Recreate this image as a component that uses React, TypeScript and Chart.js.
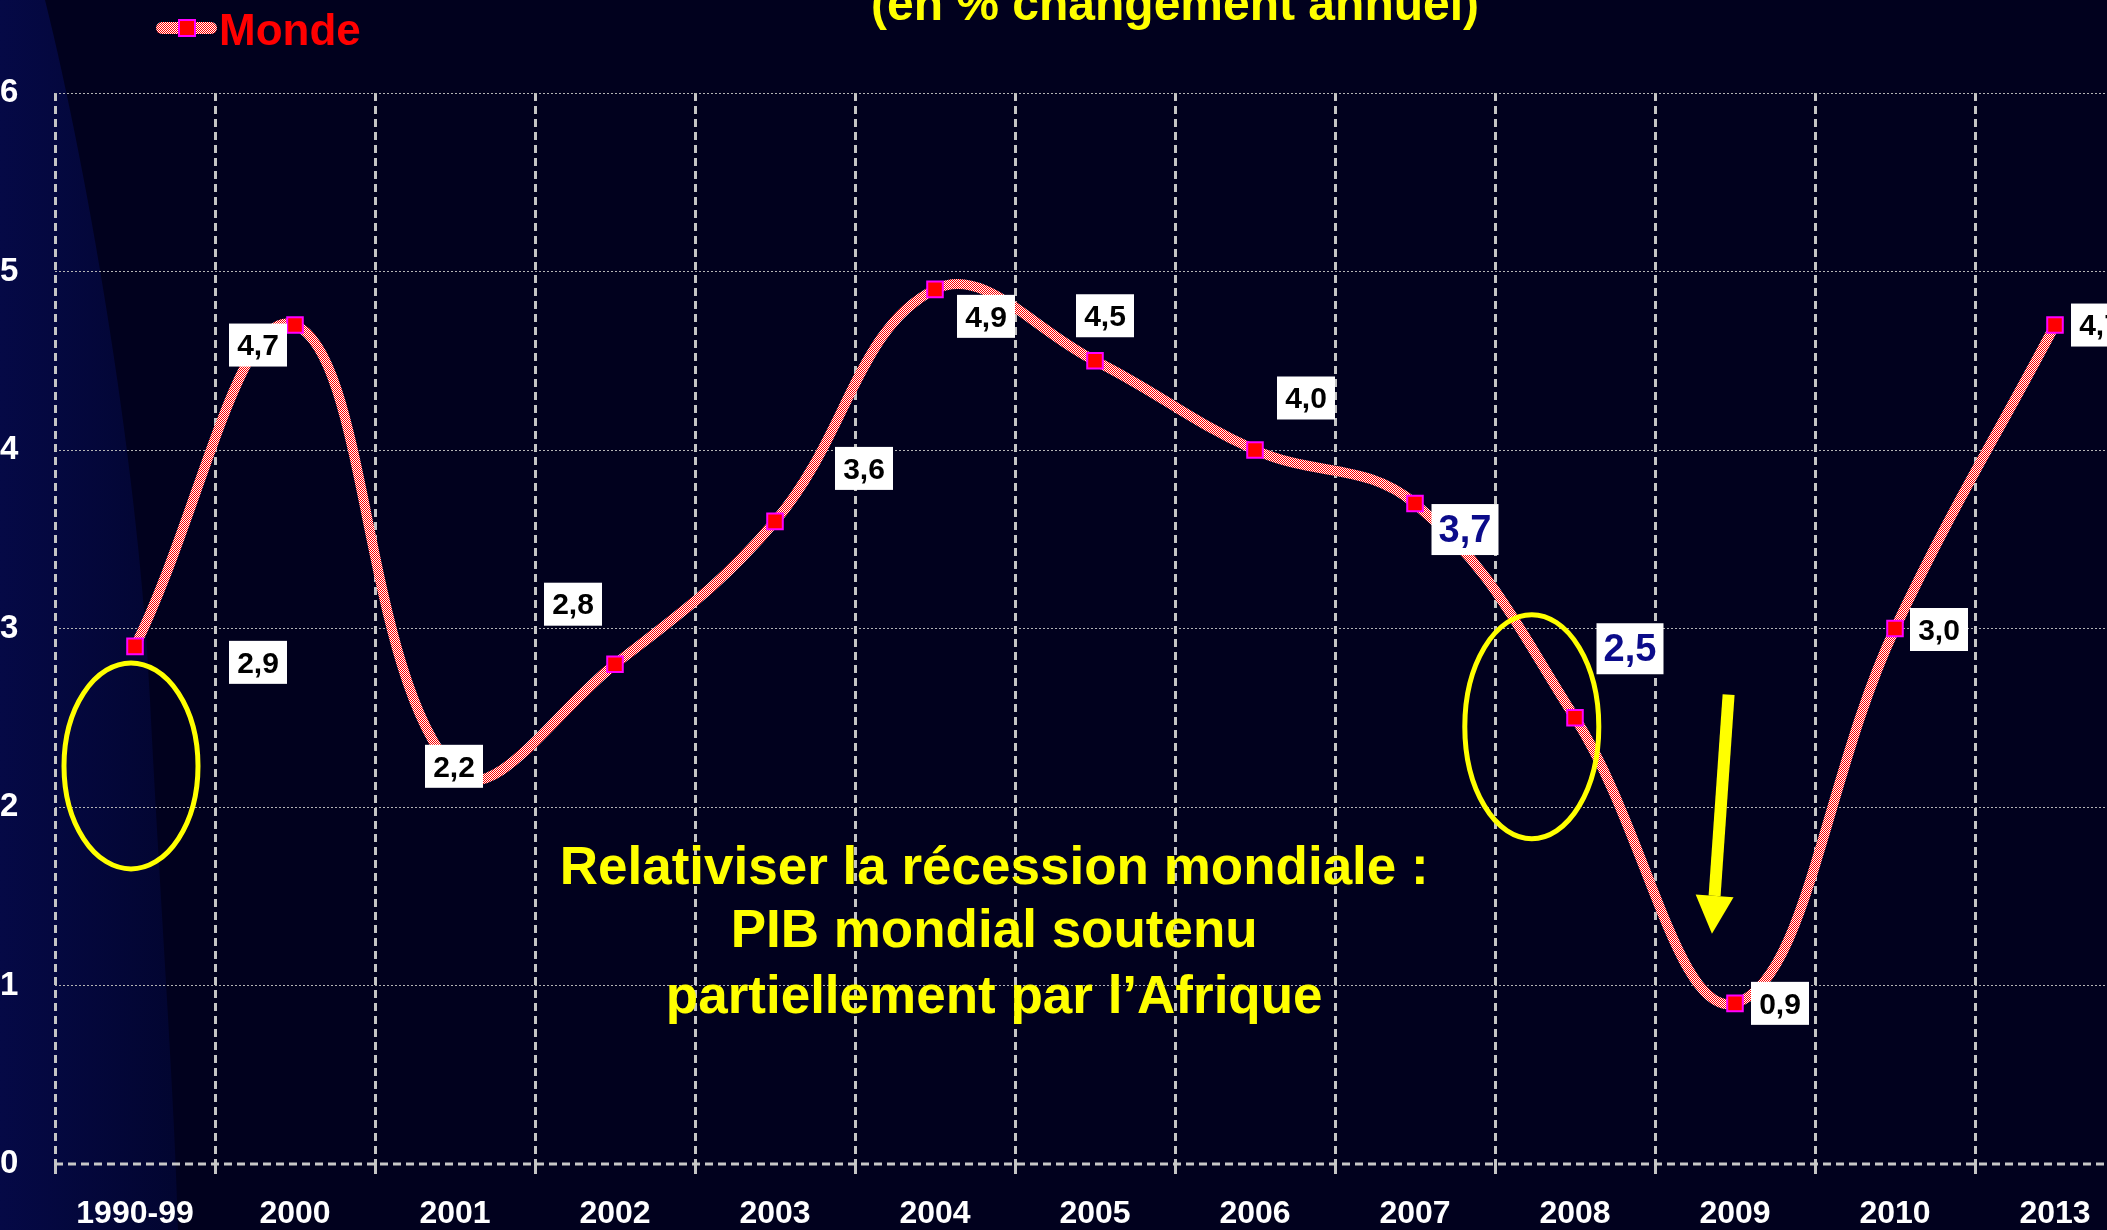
import React, { useEffect, useRef } from "react";
import { Chart, registerables } from "chart.js";

Chart.register(...registerables);

// ---------- data ----------
const categories = ["1990-99", "2000", "2001", "2002", "2003", "2004", "2005", "2006", "2007", "2008", "2009", "2010", "2013"];
const mondeValues = [2.9, 4.7, 2.2, 2.8, 3.6, 4.9, 4.5, 4.0, 3.7, 2.5, 0.9, 3.0, 4.7];
const yTickValues = [0, 1, 2, 3, 4, 5, 6];
const seriesName = "Monde";
const titleText = "(en % changement annuel)";
const noteLines = ["Relativiser la récession mondiale :", "PIB mondial soutenu", "partiellement par l\u2019Afrique"];
const highlightedCategories = ["2007", "2008"];

// ---------- layout / style (not data) ----------
const FONT = '"Liberation Sans", Arial, Helvetica, sans-serif';
const CANVAS_W = 2200;
const CANVAS_H = 1230;
// value-label box offsets from their point, in px
const labelOffsets: [number, number][] = [
  [123, 16], [-37, 20], [-1, -5], [-42, -60], [89, -53], [51, 27], [10, -45],
  [51, -52], [50, 26], [55, -69], [45, 0], [44, 1], [45, 0],
];

function makeChecker(): CanvasPattern | string {
  const c = document.createElement("canvas");
  c.width = 2;
  c.height = 2;
  const g = c.getContext("2d");
  if (!g) return "#ff6060";
  g.fillStyle = "#ffffff";
  g.fillRect(0, 0, 2, 2);
  g.fillStyle = "#ff0000";
  g.fillRect(0, 0, 1, 1);
  g.fillRect(1, 1, 1, 1);
  const p = g.createPattern(c, "repeat");
  return p || "#ff6060";
}

const fmt = (v: number) => v.toFixed(1).replace(".", ",");

export default function App() {
  const ref = useRef<HTMLCanvasElement | null>(null);

  useEffect(() => {
    const canvas = ref.current;
    if (!canvas) return;
    const pattern = makeChecker();

    const bgPlugin = {
      id: "bg",
      beforeDraw(chart: any) {
        const { ctx, width, height } = chart;
        ctx.save();
        ctx.fillStyle = "#01011e";
        ctx.fillRect(0, 0, width, height);
        const g = ctx.createLinearGradient(0, 0, 180, 0);
        g.addColorStop(0, "rgb(5,9,70)");
        g.addColorStop(1, "rgb(2,5,48)");
        ctx.beginPath();
        ctx.moveTo(0, 0);
        ctx.lineTo(45, 0);
        ctx.bezierCurveTo(90, 180, 140, 480, 150, 700);
        ctx.bezierCurveTo(160, 900, 175, 1100, 178, height);
        ctx.lineTo(0, height);
        ctx.closePath();
        ctx.fillStyle = g;
        ctx.fill();
        ctx.restore();
      },
    };

    const zeroLinePlugin = {
      id: "zeroLine",
      beforeDatasetsDraw(chart: any) {
        const { ctx, chartArea } = chart;
        const y0 = chart.scales.y.getPixelForValue(0);
        ctx.save();
        ctx.setLineDash([8, 5]);
        ctx.lineWidth = 3;
        ctx.strokeStyle = "#c8c8c8";
        ctx.beginPath();
        ctx.moveTo(chartArea.left, y0);
        ctx.lineTo(chartArea.right, y0);
        ctx.stroke();
        ctx.restore();
      },
    };

    const labelsPlugin = {
      id: "valueLabels",
      afterDatasetsDraw(chart: any) {
        const { ctx } = chart;
        const meta = chart.getDatasetMeta(0);
        ctx.save();
        meta.data.forEach((pt: any, i: number) => {
          const hl = highlightedCategories.includes(categories[i]);
          const [dx, dy] = labelOffsets[i];
          const cx = pt.x + dx;
          const cy = pt.y + dy;
          const w = hl ? 67 : 58;
          const h = hl ? 51 : 43;
          ctx.fillStyle = "#ffffff";
          ctx.fillRect(cx - w / 2, cy - h / 2, w, h);
          ctx.font = `bold ${hl ? 38 : 30}px ${FONT}`;
          ctx.fillStyle = hl ? "#0b0b8a" : "#000000";
          ctx.textAlign = "center";
          ctx.textBaseline = "middle";
          ctx.fillText(fmt(mondeValues[i]), cx, cy + 2);
        });
        ctx.restore();
      },
    };

    const annotPlugin = {
      id: "annotations",
      afterDraw(chart: any) {
        const { ctx } = chart;
        const xs = chart.scales.x;
        const ys = chart.scales.y;
        const px = (i: number) => xs.getPixelForValue(i);
        const py = (v: number) => ys.getPixelForValue(v);
        ctx.save();

        // ellipses
        ctx.strokeStyle = "#ffff00";
        ctx.lineWidth = 5;
        ctx.beginPath();
        ctx.ellipse(px(-0.025), py(2.23), 67, 103, 0, 0, Math.PI * 2);
        ctx.stroke();
        ctx.beginPath();
        ctx.ellipse(px(8.73), py(2.45), 67, 112, 0, 0, Math.PI * 2);
        ctx.stroke();

        // arrow
        const ax1 = px(9.96), ay1 = py(2.63);
        const ax2 = px(9.856), ay2 = py(1.29);
        const ang = Math.atan2(ay2 - ay1, ax2 - ax1);
        const headLen = 38, headHalf = 19;
        const bx = ax2 - headLen * Math.cos(ang);
        const by = ay2 - headLen * Math.sin(ang);
        ctx.strokeStyle = "#ffff00";
        ctx.lineWidth = 12;
        ctx.lineCap = "butt";
        ctx.beginPath();
        ctx.moveTo(ax1, ay1);
        ctx.lineTo(bx, by);
        ctx.stroke();
        ctx.fillStyle = "#ffff00";
        ctx.beginPath();
        ctx.moveTo(ax2, ay2);
        ctx.lineTo(bx + headHalf * Math.sin(ang), by - headHalf * Math.cos(ang));
        ctx.lineTo(bx - headHalf * Math.sin(ang), by + headHalf * Math.cos(ang));
        ctx.closePath();
        ctx.fill();

        // note text
        ctx.fillStyle = "#ffff00";
        ctx.font = `bold 53px ${FONT}`;
        ctx.textAlign = "center";
        ctx.textBaseline = "middle";
        const noteX = px(5.37);
        const noteY = [1.65, 1.3, 0.93];
        noteLines.forEach((t, i) => ctx.fillText(t, noteX, py(noteY[i])));

        // title (partly cut by the top edge)
        ctx.font = `bold 48px ${FONT}`;
        ctx.textBaseline = "alphabetic";
        ctx.fillText(titleText, 1175, 20);

        // legend
        ctx.lineCap = "round";
        ctx.lineWidth = 12;
        ctx.strokeStyle = pattern as any;
        ctx.beginPath();
        ctx.moveTo(162, 28);
        ctx.lineTo(211, 28);
        ctx.stroke();
        ctx.fillStyle = "#ff0000";
        ctx.fillRect(179, 20, 16, 16);
        ctx.strokeStyle = "#ff00ff";
        ctx.lineWidth = 2;
        ctx.strokeRect(179, 20, 16, 16);
        ctx.fillStyle = "#ff0000";
        ctx.font = `bold 44px ${FONT}`;
        ctx.textAlign = "left";
        ctx.fillText(seriesName, 219, 45);

        ctx.restore();
      },
    };

    const chart = new Chart(canvas, {
      type: "line",
      data: {
        labels: categories,
        datasets: [
          {
            label: seriesName,
            data: mondeValues,
            borderColor: pattern as any,
            borderWidth: 10,
            borderCapStyle: "round",
            tension: 0.4,
            fill: false,
            pointStyle: "rect",
            pointRadius: 11,
            pointHoverRadius: 11,
            pointBackgroundColor: "#ff0000",
            pointBorderColor: "#ff00ff",
            pointBorderWidth: 2,
          },
        ],
      },
      options: {
        responsive: false,
        animation: false,
        devicePixelRatio: 1,
        layout: { padding: { top: 93, left: 0, right: 65, bottom: 0 } },
        plugins: {
          legend: { display: false },
          title: { display: false },
          tooltip: { enabled: false },
        },
        scales: {
          x: {
            type: "category",
            offset: true,
            afterFit: (s: any) => {
              s.height = 66;
            },
            grid: {
              offset: true,
              color: "#c4c4c4",
              lineWidth: 3,
              drawTicks: true,
              tickLength: 10,
            },
            border: { display: false, dash: [8, 5] },
            ticks: {
              color: "#ffffff",
              font: { family: FONT, size: 32, weight: "bold" },
              padding: 21,
              maxRotation: 0,
              autoSkip: false,
            },
          },
          y: {
            min: 0,
            max: 6,
            afterFit: (s: any) => {
              s.width = 55;
            },
            afterBuildTicks: (s: any) => {
              s.ticks = yTickValues.map((v) => ({ value: v }));
            },
            grid: {
              color: (c: any) => (c.tick && c.tick.value === 0 ? "rgba(0,0,0,0)" : "#b4b4b4"),
              lineWidth: 1,
              drawTicks: false,
            },
            border: { display: false, dash: [2, 2] },
            ticks: {
              color: "#ffffff",
              font: { family: FONT, size: 33, weight: "bold" },
              crossAlign: "far",
              padding: 0,
            },
          },
        },
      },
      plugins: [bgPlugin, zeroLinePlugin, labelsPlugin, annotPlugin],
    });

    return () => chart.destroy();
  }, []);

  return (
    <div
      style={{
        position: "fixed",
        left: 0,
        top: 0,
        width: 2107,
        height: 1230,
        overflow: "hidden",
        background: "#01011e",
      }}
    >
      <canvas ref={ref} width={CANVAS_W} height={CANVAS_H} style={{ display: "block", width: CANVAS_W, height: CANVAS_H }} />
    </div>
  );
}
